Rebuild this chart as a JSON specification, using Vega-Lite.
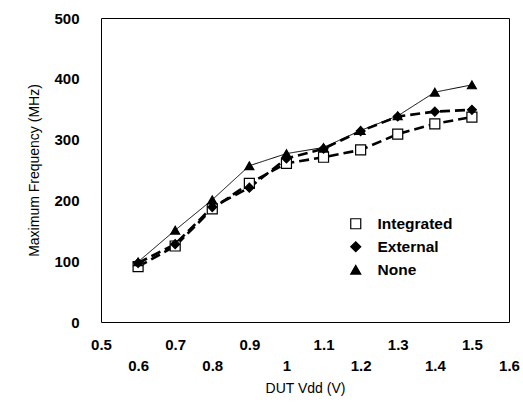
{
  "$schema": "https://vega.github.io/schema/vega-lite/v6.json",
  "width": 408,
  "height": 304,
  "autosize": "none",
  "padding": {"left": 101, "top": 18, "right": 14, "bottom": 82},
  "background": "white",
  "config": {
    "font": "Liberation Sans",
    "view": {"stroke": "black", "strokeWidth": 1},
    "axis": {"grid": false, "domain": false, "ticks": false, "labelFont": "Liberation Sans", "labelFontWeight": "bold", "labelFontSize": 15, "labelColor": "black", "titleFont": "Liberation Sans", "titleFontWeight": "normal", "titleFontSize": 14, "titleColor": "black"},
    "legend": {"orient": "none", "legendX": 247, "legendY": 198, "labelFontSize": 15.5, "labelFontWeight": "bold", "labelColor": "black", "labelFont": "Liberation Sans", "rowPadding": 6, "labelOffset": 14, "symbolSize": 100, "symbolStrokeWidth": 1.2}
  },
  "data": {"values": [
    {"v": 0.6, "f": 91, "s": "Integrated"},
    {"v": 0.7, "f": 125, "s": "Integrated"},
    {"v": 0.8, "f": 186, "s": "Integrated"},
    {"v": 0.9, "f": 228, "s": "Integrated"},
    {"v": 1.0, "f": 261, "s": "Integrated"},
    {"v": 1.1, "f": 271, "s": "Integrated"},
    {"v": 1.2, "f": 283, "s": "Integrated"},
    {"v": 1.3, "f": 309, "s": "Integrated"},
    {"v": 1.4, "f": 326, "s": "Integrated"},
    {"v": 1.5, "f": 337, "s": "Integrated"},
    {"v": 0.6, "f": 97, "s": "External"},
    {"v": 0.7, "f": 128, "s": "External"},
    {"v": 0.8, "f": 189, "s": "External"},
    {"v": 0.9, "f": 221, "s": "External"},
    {"v": 1.0, "f": 269, "s": "External"},
    {"v": 1.1, "f": 285, "s": "External"},
    {"v": 1.2, "f": 314, "s": "External"},
    {"v": 1.3, "f": 338, "s": "External"},
    {"v": 1.4, "f": 346, "s": "External"},
    {"v": 1.5, "f": 349, "s": "External"},
    {"v": 0.6, "f": 99, "s": "None"},
    {"v": 0.7, "f": 151, "s": "None"},
    {"v": 0.8, "f": 201, "s": "None"},
    {"v": 0.9, "f": 257, "s": "None"},
    {"v": 1.0, "f": 277, "s": "None"},
    {"v": 1.1, "f": 287, "s": "None"},
    {"v": 1.2, "f": 315, "s": "None"},
    {"v": 1.3, "f": 339, "s": "None"},
    {"v": 1.4, "f": 378, "s": "None"},
    {"v": 1.5, "f": 390, "s": "None"}
  ]},
  "encoding": {
    "x": {"field": "v", "type": "quantitative", "title": "DUT Vdd (V)",
      "scale": {"domain": [0.5, 1.6], "nice": false, "zero": false},
      "axis": {"values": [0.5, 0.6, 0.7, 0.8, 0.9, 1.0, 1.1, 1.2, 1.3, 1.4, 1.5, 1.6], "format": ".1~f", "labelFlush": false, "labelOverlap": false,
        "labelPadding": {"condition": {"test": "round(datum.value*10)%2==0", "value": 36}, "value": 15}, "titlePadding": 8}},
    "y": {"field": "f", "type": "quantitative", "title": "Maximum Frequency (MHz)",
      "scale": {"domain": [0, 500], "nice": false},
      "axis": {"values": [0, 100, 200, 300, 400, 500], "labelPadding": 22, "titlePadding": 12, "labelFlush": false}}
  },
  "layer": [
    {
      "mark": {"type": "line", "color": "black"},
      "encoding": {
        "detail": {"field": "s"},
        "strokeDash": {"condition": {"test": "datum.s == 'None'", "value": [1, 0]}, "value": [10, 5]},
        "strokeWidth": {"condition": {"test": "datum.s == 'None'", "value": 1}, "value": 2.6}
      }
    },
    {
      "mark": {"type": "point", "opacity": 1, "filled": true},
      "encoding": {
        "shape": {"field": "s", "type": "nominal", "title": null, "scale": {"domain": ["Integrated", "External", "None"], "range": ["square", "diamond", "triangle-up"]}},
        "fill": {"field": "s", "type": "nominal", "title": null, "scale": {"domain": ["Integrated", "External", "None"], "range": ["white", "black", "black"]}},
        "stroke": {"field": "s", "type": "nominal", "title": null, "scale": {"domain": ["Integrated", "External", "None"], "range": ["black", "black", "black"]}},
        "strokeWidth": {"value": 1.2},
        "size": {"condition": {"test": "datum.s == 'Integrated'", "value": 100}, "value": 80}
      }
    }
  ]
}
